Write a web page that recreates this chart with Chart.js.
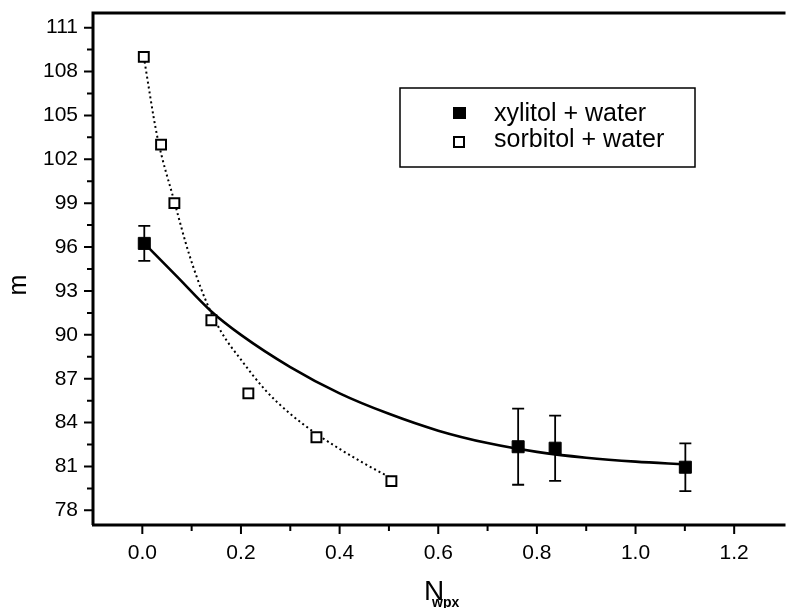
<!DOCTYPE html>
<html>
<head>
<meta charset="utf-8">
<script src="https://cdn.jsdelivr.net/npm/chart.js@4/dist/chart.umd.min.js"></script>
<style>
  html, body { margin: 0; padding: 0; background: #fff; }
  #wrap { width: 793px; height: 608px; position: relative; }
</style>
</head>
<body>
<div id="wrap"><canvas id="c" width="793" height="608"></canvas></div>
<script>
// ---- data ----
const xTickValues = [0.0, 0.2, 0.4, 0.6, 0.8, 1.0, 1.2];
const yTickValues = [78, 81, 84, 87, 90, 93, 96, 99, 102, 105, 108, 111];

const seriesNames = ['xylitol + water', 'sorbitol + water'];

const xylitolX   = [0.004, 0.762, 0.837, 1.101];
const xylitolY   = [96.25, 82.35, 82.25, 80.95];
const xylitolErr = [1.2, 2.6, 2.23, 1.63];

const sorbitolX = [0.003, 0.038, 0.065, 0.140, 0.215, 0.353, 0.505];
const sorbitolY = [109, 103, 99, 91, 86, 83, 80];

// fitted curves
const xylitolFitX = [0.004, 0.07, 0.14, 0.20, 0.30, 0.40, 0.50, 0.60, 0.70, 0.80, 0.90, 1.00, 1.10];
const xylitolFitY = [96.25, 94.0, 91.6, 90.0, 87.8, 86.0, 84.6, 83.45, 82.6, 82.0, 81.6, 81.33, 81.15];

const sorbitolFitX = [0.003, 0.03, 0.065, 0.095, 0.128, 0.16, 0.20, 0.25, 0.30, 0.35, 0.40, 0.45, 0.505];
const sorbitolFitY = [109.0, 103.6, 99.1, 95.5, 92.4, 90.2, 88.3, 86.2, 84.6, 83.3, 82.2, 81.2, 80.2];

const xMin = -0.1, xMax = 1.3, yMin = 77, yMax = 112;

const FONT = '"Liberation Sans", Arial, Helvetica, sans-serif';

function pts(xs, ys) { return xs.map((x, i) => ({ x: x, y: ys[i] })); }

const decorPlugin = {
  id: 'decor',
  afterDraw(chart) {
    const ctx = chart.ctx;
    const a = chart.chartArea;
    const xs = chart.scales.x, ys = chart.scales.y;
    ctx.save();
    ctx.strokeStyle = '#000';
    // frame (top line + left + bottom)
    ctx.lineWidth = 3;
    ctx.beginPath();
    ctx.moveTo(a.left, a.bottom);
    ctx.lineTo(a.left, a.top);
    ctx.lineTo(a.right + 2, a.top);
    ctx.stroke();
    ctx.beginPath();
    ctx.moveTo(a.left - 1, a.bottom);
    ctx.lineTo(a.right + 2, a.bottom);
    ctx.stroke();
    // major ticks
    ctx.lineWidth = 2;
    ctx.beginPath();
    xTickValues.forEach(v => {
      const px = xs.getPixelForValue(v);
      ctx.moveTo(px, a.bottom); ctx.lineTo(px, a.bottom + 9);
    });
    yTickValues.forEach(v => {
      const py = ys.getPixelForValue(v);
      ctx.moveTo(a.left, py); ctx.lineTo(a.left - 9, py);
    });
    ctx.stroke();
    // minor ticks (midway between the major ticks)
    ctx.beginPath();
    for (let i = 0; i < xTickValues.length; i++) {
      const step = xTickValues[1] - xTickValues[0];
      const v = xTickValues[i] + step / 2;
      if (v < xMax) {
        const px = xs.getPixelForValue(v);
        ctx.moveTo(px, a.bottom); ctx.lineTo(px, a.bottom + 6);
      }
    }
    for (let i = 0; i < yTickValues.length; i++) {
      const step = yTickValues[1] - yTickValues[0];
      const v = yTickValues[i] + step / 2;
      if (v < yMax) {
        const py = ys.getPixelForValue(v);
        ctx.moveTo(a.left, py); ctx.lineTo(a.left - 6, py);
      }
    }
    ctx.stroke();

    // error bars
    ctx.lineWidth = 1.8;
    ctx.beginPath();
    xylitolX.forEach((x, i) => {
      const px = xs.getPixelForValue(x);
      const top = ys.getPixelForValue(xylitolY[i] + xylitolErr[i]);
      const bot = ys.getPixelForValue(xylitolY[i] - xylitolErr[i]);
      ctx.moveTo(px, top); ctx.lineTo(px, bot);
      ctx.moveTo(px - 6, top); ctx.lineTo(px + 6, top);
      ctx.moveTo(px - 6, bot); ctx.lineTo(px + 6, bot);
    });
    ctx.stroke();

    // axis titles
    ctx.fillStyle = '#000';
    ctx.textBaseline = 'alphabetic';
    ctx.textAlign = 'left';
    ctx.font = '28px ' + FONT;
    ctx.fillText('N', 424, 600);
    ctx.font = 'bold 14px ' + FONT;
    ctx.fillText('wpx', 432, 607);

    ctx.save();
    ctx.translate(26, 285);
    ctx.rotate(-Math.PI / 2);
    ctx.textAlign = 'center';
    ctx.font = '25px ' + FONT;
    ctx.fillText('m', 0, 0);
    ctx.restore();

    // legend
    ctx.lineWidth = 1.5;
    ctx.strokeRect(400, 88, 295, 79);
    ctx.fillStyle = '#000';
    ctx.fillRect(453, 107, 13, 12);
    ctx.fillStyle = '#fff';
    ctx.fillRect(454, 137, 10, 10);
    ctx.lineWidth = 2;
    ctx.strokeRect(454, 137, 10, 10);
    ctx.fillStyle = '#000';
    ctx.font = '25px ' + FONT;
    ctx.textAlign = 'left';
    ctx.fillText(seriesNames[0], 494, 121);
    ctx.fillText(seriesNames[1], 494, 147);
    ctx.restore();
  }
};

new Chart(document.getElementById('c'), {
  type: 'scatter',
  data: {
    datasets: [
      {
        label: seriesNames[0],
        data: pts(xylitolX, xylitolY),
        pointStyle: 'rect',
        pointRadius: 8.5,
        backgroundColor: '#000',
        borderColor: '#000',
        borderWidth: 1,
        order: 0
      },
      {
        label: seriesNames[1],
        data: pts(sorbitolX, sorbitolY),
        pointStyle: 'rect',
        pointRadius: 7,
        backgroundColor: '#fff',
        borderColor: '#000',
        borderWidth: 2,
        order: 0
      },
      {
        label: 'xylitol fit',
        data: pts(xylitolFitX, xylitolFitY),
        showLine: true,
        pointRadius: 0,
        borderColor: '#000',
        borderWidth: 2.6,
        cubicInterpolationMode: 'monotone',
        order: 2
      },
      {
        label: 'sorbitol fit',
        data: pts(sorbitolFitX, sorbitolFitY),
        showLine: true,
        pointRadius: 0,
        borderColor: '#000',
        borderWidth: 2,
        borderDash: [2, 3],
        cubicInterpolationMode: 'monotone',
        order: 2
      }
    ]
  },
  options: {
    responsive: false,
    animation: false,
    events: [],
    layout: { padding: { top: 13, right: 0, left: 0, bottom: 0 } },
    plugins: { legend: { display: false }, tooltip: { enabled: false } },
    scales: {
      x: {
        type: 'linear',
        min: xMin, max: xMax,
        afterBuildTicks: s => { s.ticks = xTickValues.map(v => ({ value: v })); },
        afterFit: s => { s.height = 83; s.paddingLeft = 0; s.paddingRight = 0; },
        grid: { display: false, drawOnChartArea: false },
        border: { display: false },
        ticks: {
          color: '#000',
          font: { family: FONT, size: 21 },
          padding: 8,
          maxRotation: 0,
          autoSkip: false,
          callback: v => Number(v).toFixed(1)
        }
      },
      y: {
        type: 'linear',
        min: yMin, max: yMax,
        afterBuildTicks: s => { s.ticks = yTickValues.map(v => ({ value: v })); },
        afterFit: s => { s.width = 93; s.paddingTop = 0; s.paddingBottom = 0; },
        grid: { display: false, drawOnChartArea: false },
        border: { display: false },
        ticks: {
          color: '#000',
          font: { family: FONT, size: 21 },
          padding: 7,
          autoSkip: false,
          callback: v => String(v)
        }
      }
    }
  },
  plugins: [decorPlugin]
});
</script>
</body>
</html>
